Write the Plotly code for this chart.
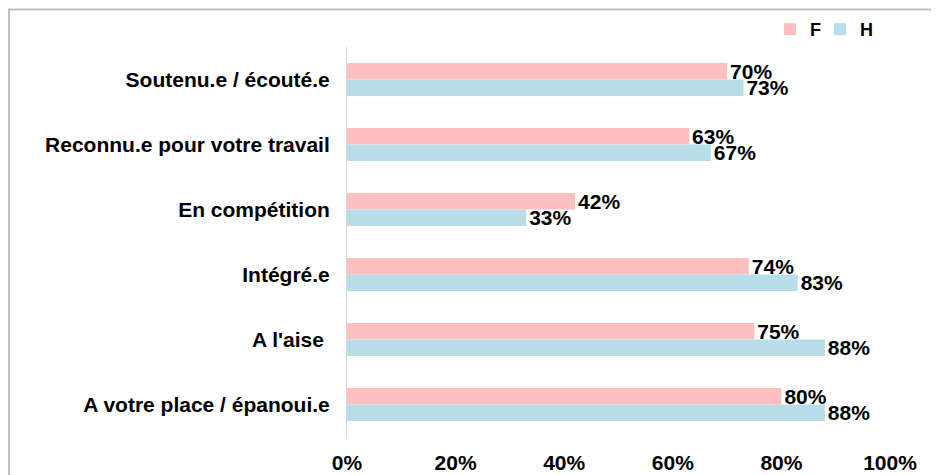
import plotly.graph_objects as go

categories = ["Soutenu.e / écouté.e", "Reconnu.e pour votre travail", "En compétition",
              "Intégré.e", "A l'aise ", "A votre place / épanoui.e"]
f_values = [70, 63, 42, 74, 75, 80]
h_values = [73, 67, 33, 83, 88, 88]
tick_vals = [0, 20, 40, 60, 80, 100]
tick_text = ["0%", "20%", "40%", "60%", "80%", "100%"]

FONT = dict(family="Liberation Sans, Arial, sans-serif", size=21, color="#000000", weight="bold")
LEG_FONT = dict(family="Liberation Sans, Arial, sans-serif", size=18, weight="bold")

fig = go.Figure()
fig.add_trace(go.Bar(
    y=categories, x=f_values, name="F", orientation="h", legend="legend",
    marker=dict(color="#FFBFBF", line=dict(width=0)),
    text=[f"{v}%" for v in f_values], textposition="outside",
    textfont=FONT, cliponaxis=False,
))
fig.add_trace(go.Bar(
    y=categories, x=h_values, name="H", orientation="h", legend="legend2",
    marker=dict(color="#B7DEE8", line=dict(width=0)),
    text=[f"{v}%" for v in h_values], textposition="outside",
    textfont=FONT, cliponaxis=False,
))

# the page body adds an 8px margin, so the figure is sized to fit inside it
fig.update_layout(
    width=931, height=467,
    barmode="group", bargap=0.49, bargroupgap=0,
    margin=dict(l=339, r=49, t=39, b=38, autoexpand=False),
    paper_bgcolor="white", plot_bgcolor="white",
    font=FONT,
    showlegend=True,
    legend=dict(x=0.779, y=1.045, xanchor="left", yanchor="middle",
                font=LEG_FONT, bgcolor="rgba(0,0,0,0)"),
    legend2=dict(x=0.871, y=1.045, xanchor="left", yanchor="middle",
                 font=LEG_FONT, bgcolor="rgba(0,0,0,0)"),
    xaxis=dict(range=[0, 100], tickvals=tick_vals, ticktext=tick_text,
               showgrid=False, zeroline=False, showline=False,
               ticks="", ticklabelstandoff=11, fixedrange=True),
    yaxis=dict(autorange="reversed", showgrid=False, zeroline=False,
               showline=True, linecolor="#D9D9D9", linewidth=1,
               ticks="", ticklabelstandoff=12),
    shapes=[dict(type="rect", xref="paper", yref="paper",
                 x0=-338 / 543, x1=1.2, y0=-0.2, y1=(467 - 38 - 1.5) / 390,
                 line=dict(color="#BFBFBF", width=2), fillcolor="rgba(0,0,0,0)")],
)
fig.update_traces(constraintext="none")

fig.write_html("out.html")
